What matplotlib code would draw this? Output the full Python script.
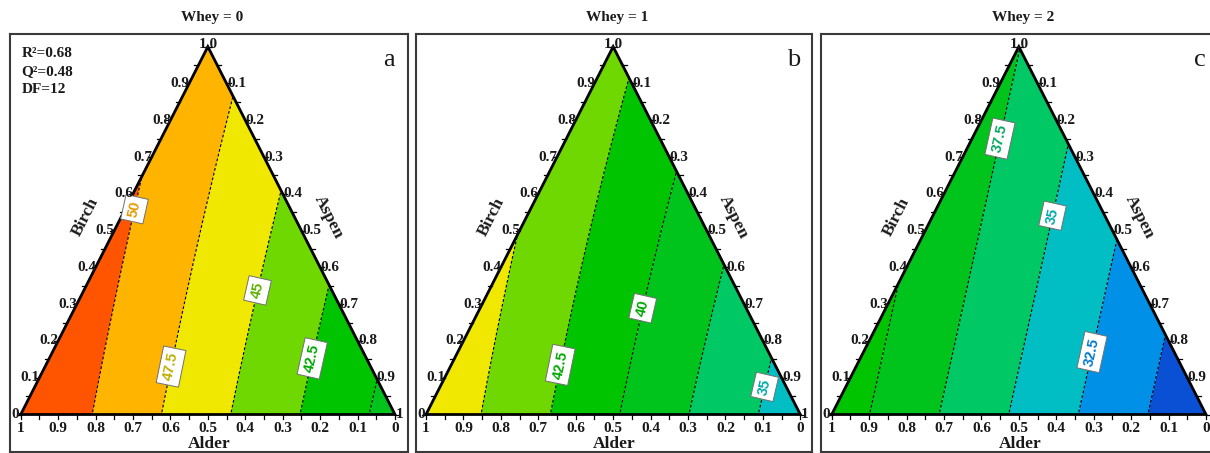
import numpy as np
import matplotlib
matplotlib.use('Agg')
import matplotlib.pyplot as plt
from matplotlib.patches import Polygon

# ---------------- data ----------------
panel_titles = ['Whey = 0', 'Whey = 1', 'Whey = 2']
panel_letters = ['a', 'b', 'c']
# mixture-model coefficients (value at pure Alder / Birch / Aspen + Alder*Birch blend)
beta_alder = [52.58, 46.985, 41.36]
beta_birch = [48.81, 43.335, 37.55]
beta_aspen = [39.07, 33.485, 27.91]
beta_alder_birch = [-0.6, -0.8, 0.0]

fill_levels = [25, 27.5, 30, 32.5, 35, 37.5, 40, 42.5, 45, 47.5, 50, 55]
band_colors = ['#0a50d4', '#0a50d4', '#0090e8', '#00bec4', '#00c864', '#00c31c',
               '#00c400', '#6fd800', '#f0e800', '#ffb400', '#ff5500']
line_levels = [30, 32.5, 35, 37.5, 40, 42.5, 45, 47.5, 50]
label_text_colors = {50: '#e39a00', 47.5: '#bfae00', 45: '#5cb000', 42.5: '#00a800',
                     40: '#00a800', 37.5: '#00a860', 35: '#00a8a8', 32.5: '#0078d0'}

stats_lines = ['R\u00b2=0.68', 'Q\u00b2=0.48', 'DF=12']
alder_ticklabels = ['1', '0.9', '0.8', '0.7', '0.6', '0.5', '0.4', '0.3', '0.2', '0.1', '0']
birch_ticklabels = ['0', '0.1', '0.2', '0.3', '0.4', '0.5', '0.6', '0.7', '0.8', '0.9', '1.0']
aspen_ticklabels = ['0.1', '0.2', '0.3', '0.4', '0.5', '0.6', '0.7', '0.8', '0.9', '1']

# ---------------- layout (pixels) ----------------
W, H = 1210, 453
frame_x = [(10, 408), (416, 812), (821, 1213)]
frame_top, frame_bot = 34, 452
tri_left = [20.7, 426.0, 831.7]
TW = 374.3
base_y, apex_y = 414.5, 46.7
TH = base_y - apex_y
# contour label positions (data coords of triangle)
label_pos = [[(0.314, 0.556), (0.403, 0.130), (0.630, 0.338), (0.777, 0.153)],
             [(0.358, 0.135), (0.579, 0.289), (0.901, 0.076)],
             [(0.445, 0.751), (0.583, 0.542), (0.690, 0.171)]]

plt.rcParams['font.family'] = ['Liberation Serif', 'DejaVu Serif']
plt.rcParams['lines.dashed_pattern'] = [2.6, 1.8]

fig = plt.figure(figsize=(W / 100, H / 100), dpi=100)

xs = np.linspace(-0.02, 1.02, 521)
ys = np.linspace(-0.02, 1.02, 521)
X, Y = np.meshgrid(xs, ys)
Bf = Y
Sf = X - Y / 2
Af = 1 - X - Y / 2

for i in range(3):
    fx0, fx1 = frame_x[i]
    L = tri_left[i]
    ax = fig.add_axes([fx0 / W, (H - frame_bot) / H, (fx1 - fx0) / W, (frame_bot - frame_top) / H])
    ax.set_xlim((fx0 - L) / TW, (fx1 - L) / TW)
    ax.set_ylim((base_y - frame_bot) / TH, (base_y - frame_top) / TH)
    ax.set_xticks([]); ax.set_yticks([])
    for sp in ax.spines.values():
        sp.set_color('#3a3a3a'); sp.set_linewidth(1.5)

    def px(xp, yp):
        return (xp - L) / TW, (base_y - yp) / TH

    F = (beta_alder[i] * Af + beta_birch[i] * Bf + beta_aspen[i] * Sf
         + beta_alder_birch[i] * Af * Bf)

    tri = Polygon([(0, 0), (1, 0), (0.5, 1)], closed=True, transform=ax.transData,
                  fc='none', ec='none')
    ax.add_patch(tri)
    cf = ax.contourf(X, Y, F, levels=fill_levels, colors=band_colors, antialiased=True)
    cf.set_clip_path(tri)
    cl = ax.contour(X, Y, F, levels=line_levels, colors='k', linewidths=0.8,
                    linestyles='--')
    cl.set_clip_path(tri)

    texts = ax.clabel(cl, manual=label_pos[i], inline=True, inline_spacing=2,
                      fmt=lambda v: ('%g' % v), fontsize=10.5, colors='k')
    for t in texts:
        lv = float(t.get_text())
        t.set_fontfamily('Liberation Sans')
        t.set_fontweight('bold')
        t.set_color(label_text_colors.get(lv, 'k'))
        t.set_bbox(dict(boxstyle='square,pad=0.3', fc='white', ec='#707070', lw=0.7))
        t.set_zorder(6)

    # triangle outline
    ax.plot([0, 1, 0.5, 0], [0, 0, 1, 0], color='black', lw=2.0, zorder=5,
            solid_joinstyle='miter', clip_on=False)

    # ticks
    tl = 4.0
    for k in range(21):
        v = k * 0.05
        ax.plot([v, v], [0, -tl / TH], color='black', lw=0.9, zorder=5, clip_on=False)
        ax.plot([v / 2, v / 2 - tl / TW], [v, v], color='black', lw=0.9, zorder=5, clip_on=False)
        xr = 1 - v / 2
        ax.plot([xr, xr + tl / TW], [v, v], color='black', lw=0.9, zorder=5, clip_on=False)

    tfont = dict(fontsize=11, fontweight='bold', color='#1a1a1a', zorder=7)
    # bottom (Alder)
    for k, lab in enumerate(alder_ticklabels):
        ax.text(k / 10, (base_y - 428.5) / TH, lab, ha='center', va='center', **tfont)
    # left (Birch)
    for k, lab in enumerate(birch_ticklabels):
        v = k / 10
        if k == 10:
            ax.text(0.5, (base_y - 45) / TH, lab, ha='center', va='center', **tfont)
        elif k == 0:
            ax.text(-1.5 / TW, 0, lab, ha='right', va='center', **tfont)
        else:
            ax.text(v / 2 + 0.5 / TW, v, lab, ha='right', va='center', **tfont)
    # right (Aspen)
    for k, lab in enumerate(aspen_ticklabels):
        s = (k + 1) / 10
        yv = 1 - s
        xd = 1 - yv / 2 + 0.5 / TW
        if L + xd * TW + 4 > W:   # falls outside the picture, as in the reference
            continue
        ax.text(xd, yv, lab, ha='left', va='center', **tfont)

    afont = dict(fontsize=12.5, fontweight='bold', color='#1a1a1a')
    ax.text(*px(L + 65, 216.7), 'Birch', rotation=63, ha='center', va='center', **afont)
    ax.text(*px(L + 307.6, 216.7), 'Aspen', rotation=-63, ha='center', va='center', **afont)
    ax.text(*px(L + 188.3, 444.5), 'Alder', ha='center', va='center', clip_on=False, **afont)

    ax.text(*px(L + TW / 2 + 4, 17.3), panel_titles[i], ha='center', va='center',
            fontsize=11, fontweight='bold', color='#1a1a1a', clip_on=False)
    ax.text(*px(L + TW - 0.5, 60), panel_letters[i], ha='right', va='center',
            fontsize=19, color='#1a1a1a')

    if i == 0:
        for j, s in enumerate(stats_lines):
            ax.text(*px(21.7, 53.3 + 18.3 * j), s, ha='left', va='center',
                    fontsize=11, fontweight='bold', color='#1a1a1a')

fig.savefig('out.png', dpi=100)
